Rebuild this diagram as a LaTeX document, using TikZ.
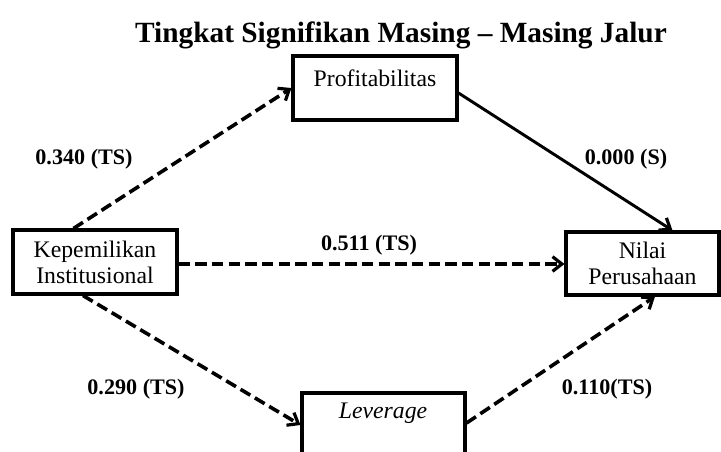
\documentclass[tikz,border=0pt]{standalone}
\usepackage{fontspec}
\setmainfont{Liberation Serif}
\usetikzlibrary{arrows.meta,calc}
\begin{document}
\begin{tikzpicture}[x=0.75pt,y=-0.75pt,
  box/.style={draw, line width=2.3pt, inner sep=0pt},
  boxtext/.style={font=\fontsize{17.8}{19.5}\selectfont, align=center},
  lbl/.style={font=\fontsize{16.6}{20}\selectfont\bfseries, anchor=base},
  dsh/.style={line width=2.7pt, dash pattern=on 8.5pt off 4pt, -{Straight Barb[length=7pt,width=11pt,line width=2.4pt]}},
  sol/.style={line width=2.2pt, -{Straight Barb[length=7pt,width=11pt,line width=2.4pt]}}]
\useasboundingbox (0,0) rectangle (721,451);
\clip (0,0) rectangle (721,451);

% title
\node[font=\fontsize{22}{26}\selectfont\bfseries, anchor=base] (title) at (401,42) {Tingkat Signifikan Masing -- Masing Jalur};

% boxes
\node[box, minimum width=123pt, minimum height=48pt, boxtext] (kep) at (95,262) {Kepemilikan\\Institusional};
\node[box, minimum width=114.75pt, minimum height=47.25pt, boxtext] (nilai) at (642.5,263.5) {Nilai\\Perusahaan};
\node[box, minimum width=123pt, minimum height=48pt] (prof) at (375,88) {};
\node[boxtext] (proft) at (375,78) {Profitabilitas};
\node[box, minimum width=122.25pt, minimum height=60pt] (lev) at (383.5,433) {};
\node[boxtext, font=\fontsize{17.8}{19.5}\selectfont\itshape] (levt) at (383,413) {Leverage};

% connectors
\draw[dsh] ($(kep.north west)+(62,0)$) -- (prof.west);
\draw[sol] ($(prof.east)+(0,5)$) -- ($(nilai.north)+(30,0)$);
\draw[dsh] ($(kep.east)+(0,2)$) -- ($(kep.east -| nilai.west)+(0,2)$);
\draw[dsh] ($(kep.south)+(-12,0)$) -- ($(lev.west)+(0,-8)$);
\draw[dsh] ($(lev.east)+(0,-10)$) -- ($(nilai.south)+(12.5,0)$);

% labels
\node[lbl] (l1) at (84,164) {0.340 (TS)};
\node[lbl] (l2) at (626,164) {0.000 (S)};
\node[lbl] (l3) at (369,250) {0.511 (TS)};
\node[lbl] (l4) at (136,394) {0.290 (TS)};
\node[lbl] (l5) at (607,394) {0.110(TS)};
\end{tikzpicture}
\end{document}
